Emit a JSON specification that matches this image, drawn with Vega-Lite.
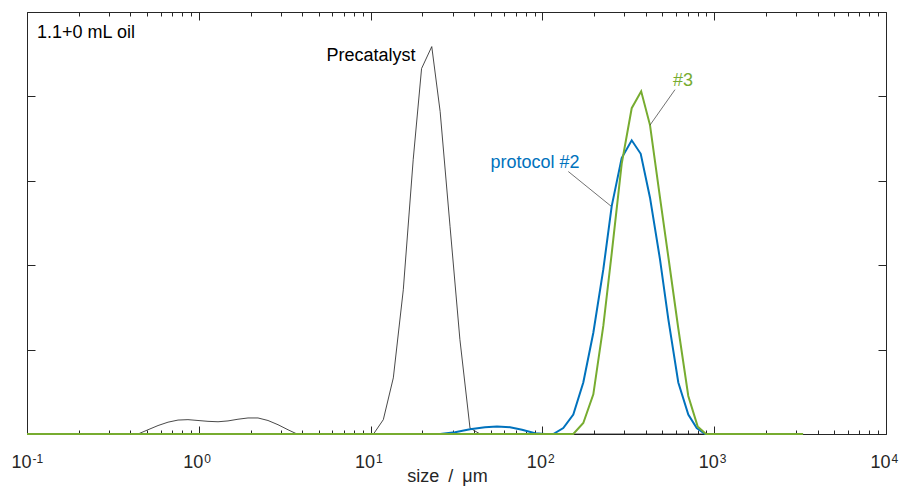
{
  "$schema": "https://vega.github.io/schema/vega-lite/v6.json",
  "width": 859,
  "height": 422,
  "autosize": {"type": "none"},
  "padding": {"left": 27, "top": 12, "right": 16, "bottom": 54},
  "config": {
    "view": {"stroke": null},
    "axis": {
      "grid": false,
      "domainColor": "#262626",
      "tickColor": "#262626",
      "labelColor": "#262626",
      "titleColor": "#262626",
      "labelFont": "Liberation Sans",
      "titleFont": "Liberation Sans",
      "domainWidth": 1,
      "tickWidth": 1,
      "labelOverlap": false,
      "labelBound": false,
      "labelFlush": false
    },
    "text": {"font": "Liberation Sans"}
  },
  "datasets": {
    "curves": [
      {"series": "Precatalyst", "size": 0.1, "value": 0},
      {"series": "Precatalyst", "size": 0.443, "value": 0},
      {"series": "Precatalyst", "size": 0.506, "value": 0.05},
      {"series": "Precatalyst", "size": 0.579, "value": 0.1},
      {"series": "Precatalyst", "size": 0.662, "value": 0.14},
      {"series": "Precatalyst", "size": 0.757, "value": 0.165},
      {"series": "Precatalyst", "size": 0.865, "value": 0.17},
      {"series": "Precatalyst", "size": 0.989, "value": 0.16},
      {"series": "Precatalyst", "size": 1.131, "value": 0.15},
      {"series": "Precatalyst", "size": 1.294, "value": 0.145},
      {"series": "Precatalyst", "size": 1.479, "value": 0.155},
      {"series": "Precatalyst", "size": 1.691, "value": 0.175},
      {"series": "Precatalyst", "size": 1.934, "value": 0.19},
      {"series": "Precatalyst", "size": 2.211, "value": 0.19},
      {"series": "Precatalyst", "size": 2.528, "value": 0.16},
      {"series": "Precatalyst", "size": 2.891, "value": 0.11},
      {"series": "Precatalyst", "size": 3.306, "value": 0.05},
      {"series": "Precatalyst", "size": 3.729, "value": 0},
      {"series": "Precatalyst", "size": 10.4, "value": 0},
      {"series": "Precatalyst", "size": 11.86, "value": 0.17},
      {"series": "Precatalyst", "size": 13.56, "value": 0.665},
      {"series": "Precatalyst", "size": 15.5, "value": 1.71},
      {"series": "Precatalyst", "size": 17.7, "value": 3.25},
      {"series": "Precatalyst", "size": 19.8, "value": 4.33},
      {"series": "Precatalyst", "size": 22.7, "value": 4.59},
      {"series": "Precatalyst", "size": 25.4, "value": 3.82},
      {"series": "Precatalyst", "size": 29.0, "value": 2.46},
      {"series": "Precatalyst", "size": 33.1, "value": 1.12},
      {"series": "Precatalyst", "size": 37.9, "value": 0.07},
      {"series": "Precatalyst", "size": 43.4, "value": 0},
      {"series": "Precatalyst", "size": 3290, "value": 0},
      {"series": "protocol #2", "size": 0.1, "value": 0},
      {"series": "protocol #2", "size": 25.4, "value": 0},
      {"series": "protocol #2", "size": 31.0, "value": 0.02},
      {"series": "protocol #2", "size": 37.9, "value": 0.055},
      {"series": "protocol #2", "size": 46.3, "value": 0.08},
      {"series": "protocol #2", "size": 54.4, "value": 0.09},
      {"series": "protocol #2", "size": 64.8, "value": 0.08},
      {"series": "protocol #2", "size": 76.1, "value": 0.05},
      {"series": "protocol #2", "size": 90.6, "value": 0.01},
      {"series": "protocol #2", "size": 103.5, "value": 0},
      {"series": "protocol #2", "size": 115.7, "value": 0},
      {"series": "protocol #2", "size": 132.3, "value": 0.07},
      {"series": "protocol #2", "size": 151.3, "value": 0.23},
      {"series": "protocol #2", "size": 173.0, "value": 0.61},
      {"series": "protocol #2", "size": 197.9, "value": 1.2},
      {"series": "protocol #2", "size": 226.2, "value": 1.95},
      {"series": "protocol #2", "size": 253.2, "value": 2.7},
      {"series": "protocol #2", "size": 289.4, "value": 3.27},
      {"series": "protocol #2", "size": 331.0, "value": 3.48},
      {"series": "protocol #2", "size": 373.5, "value": 3.32},
      {"series": "protocol #2", "size": 423.0, "value": 2.8},
      {"series": "protocol #2", "size": 483.6, "value": 2.07},
      {"series": "protocol #2", "size": 540.6, "value": 1.36},
      {"series": "protocol #2", "size": 618.1, "value": 0.61},
      {"series": "protocol #2", "size": 706.6, "value": 0.23},
      {"series": "protocol #2", "size": 791.0, "value": 0.07},
      {"series": "protocol #2", "size": 884.3, "value": 0},
      {"series": "protocol #2", "size": 3290, "value": 0},
      {"series": "#3", "size": 0.1, "value": 0},
      {"series": "#3", "size": 151.3, "value": 0},
      {"series": "#3", "size": 173.0, "value": 0.13},
      {"series": "#3", "size": 197.9, "value": 0.47},
      {"series": "#3", "size": 226.2, "value": 1.28},
      {"series": "#3", "size": 253.2, "value": 2.14},
      {"series": "#3", "size": 289.4, "value": 3.2},
      {"series": "#3", "size": 331.0, "value": 3.86},
      {"series": "#3", "size": 375.8, "value": 4.06},
      {"series": "#3", "size": 423.0, "value": 3.66},
      {"series": "#3", "size": 483.6, "value": 2.8},
      {"series": "#3", "size": 540.6, "value": 2.1},
      {"series": "#3", "size": 618.1, "value": 1.25},
      {"series": "#3", "size": 706.6, "value": 0.45},
      {"series": "#3", "size": 801.0, "value": 0.09},
      {"series": "#3", "size": 895.0, "value": 0},
      {"series": "#3", "size": 3290, "value": 0}
    ],
    "notes": [
      {"label": "1.1+0 mL oil", "x": 0.2205, "y": 4.69, "series": "note"},
      {"label": "Precatalyst", "x": 10.05, "y": 4.42, "series": "Precatalyst"},
      {"label": "protocol #2", "x": 90.6, "y": 3.15, "series": "protocol #2"},
      {"label": "#3", "x": 658, "y": 4.12, "series": "#3"}
    ],
    "leaders": [
      {"x": 141.5, "y": 3.11, "x2": 250.8, "y2": 2.7},
      {"x": 591.3, "y": 4.08, "x2": 423, "y2": 3.66}
    ]
  },
  "layer": [
    {
      "data": {"name": "curves"},
      "transform": [{"filter": "datum.series === 'Precatalyst'"}],
      "mark": {"type": "line", "color": "#1a1a1a", "strokeWidth": 0.8},
      "encoding": {
        "x": {
          "field": "size", "type": "quantitative",
          "scale": {"type": "log", "domain": [0.1, 10000], "nice": false},
          "axis": {
            "orient": "bottom", "values": [0.1, 1, 10, 100, 1000, 10000],
            "ticks": false, "tickSize": 0, "labelPadding": 19, "labelFontSize": 18,
            "labelAlign": "right", "labelOffset": 4,
            "labelExpr": "'10'",
            "title": "size\u2002/\u2002μm", "titleFontSize": 18, "titleFontWeight": "normal",
            "titleBaseline": "alphabetic", "titleY": 47, "titleX": 420
          }
        },
        "y": {
          "field": "value", "type": "quantitative",
          "scale": {"domain": [0, 5], "nice": false},
          "axis": {"orient": "left", "values": [0, 1, 2, 3, 4, 5], "labels": false, "tickSize": -8, "title": null}
        }
      }
    },
    {
      "data": {"name": "curves"},
      "transform": [{"filter": "datum.series === 'protocol #2'"}],
      "mark": {"type": "line", "color": "#0072BD", "strokeWidth": 2},
      "encoding": {
        "x": {
          "field": "size", "type": "quantitative",
          "scale": {"type": "log", "domain": [0.1, 10000], "nice": false},
          "axis": {"orient": "top", "values": [0.1, 1, 10, 100, 1000, 10000], "tickSize": -8, "labels": false, "title": null}
        },
        "y": {
          "field": "value", "type": "quantitative",
          "scale": {"domain": [0, 5], "nice": false},
          "axis": {"orient": "right", "values": [0, 1, 2, 3, 4, 5], "labels": false, "tickSize": -8, "title": null}
        }
      }
    },
    {
      "data": {"name": "curves"},
      "transform": [{"filter": "datum.series === '#3'"}],
      "mark": {"type": "line", "color": "#77AC30", "strokeWidth": 2},
      "encoding": {
        "x": {
          "field": "size", "type": "quantitative",
          "scale": {"type": "log", "domain": [0.1, 10000], "nice": false},
          "axis": {
            "orient": "bottom", "values": [0.1, 1, 10, 100, 1000, 10000], "tickSize": -8,
            "labels": true, "labelFontSize": 12, "labelAlign": "left", "labelOffset": 5, "labelPadding": 27,
            "labelExpr": "['-1','0','1','2','3','4'][round(log(datum.value)/LN10)+1]",
            "domain": false, "title": null
          }
        },
        "y": {
          "field": "value", "type": "quantitative",
          "scale": {"domain": [0, 5], "nice": false},
          "axis": null
        }
      }
    },
    {
      "data": {"name": "leaders"},
      "mark": {"type": "rule", "color": "#333333", "strokeWidth": 0.7},
      "encoding": {
        "x": {
          "field": "x", "type": "quantitative",
          "scale": {"type": "log", "domain": [0.1, 10000], "nice": false},
          "axis": {"orient": "bottom", "values": [0.2,0.3,0.4,0.5,0.6,0.7,0.8,0.9,2,3,4,5,6,7,8,9,20,30,40,50,60,70,80,90,200,300,400,500,600,700,800,900,2000,3000,4000,5000,6000,7000,8000,9000], "tickSize": -4, "labels": false, "domain": false, "title": null}
        },
        "x2": {"field": "x2"},
        "y": {"field": "y", "type": "quantitative", "scale": {"domain": [0, 5], "nice": false}, "axis": null},
        "y2": {"field": "y2"}
      }
    },
    {
      "data": {"name": "notes"},
      "mark": {"type": "text", "fontSize": 18, "align": "center", "baseline": "alphabetic"},
      "encoding": {
        "x": {
          "field": "x", "type": "quantitative",
          "scale": {"type": "log", "domain": [0.1, 10000], "nice": false},
          "axis": {"orient": "top", "values": [0.2,0.3,0.4,0.5,0.6,0.7,0.8,0.9,2,3,4,5,6,7,8,9,20,30,40,50,60,70,80,90,200,300,400,500,600,700,800,900,2000,3000,4000,5000,6000,7000,8000,9000], "tickSize": -4, "labels": false, "domain": false, "title": null}
        },
        "y": {"field": "y", "type": "quantitative", "scale": {"domain": [0, 5], "nice": false}, "axis": null},
        "text": {"field": "label"},
        "color": {
          "field": "series", "type": "nominal",
          "scale": {"domain": ["note", "Precatalyst", "protocol #2", "#3"], "range": ["#000000", "#000000", "#0072BD", "#77AC30"]},
          "legend": null
        }
      }
    }
  ],
  "resolve": {"axis": {"x": "independent", "y": "independent"}}
}
